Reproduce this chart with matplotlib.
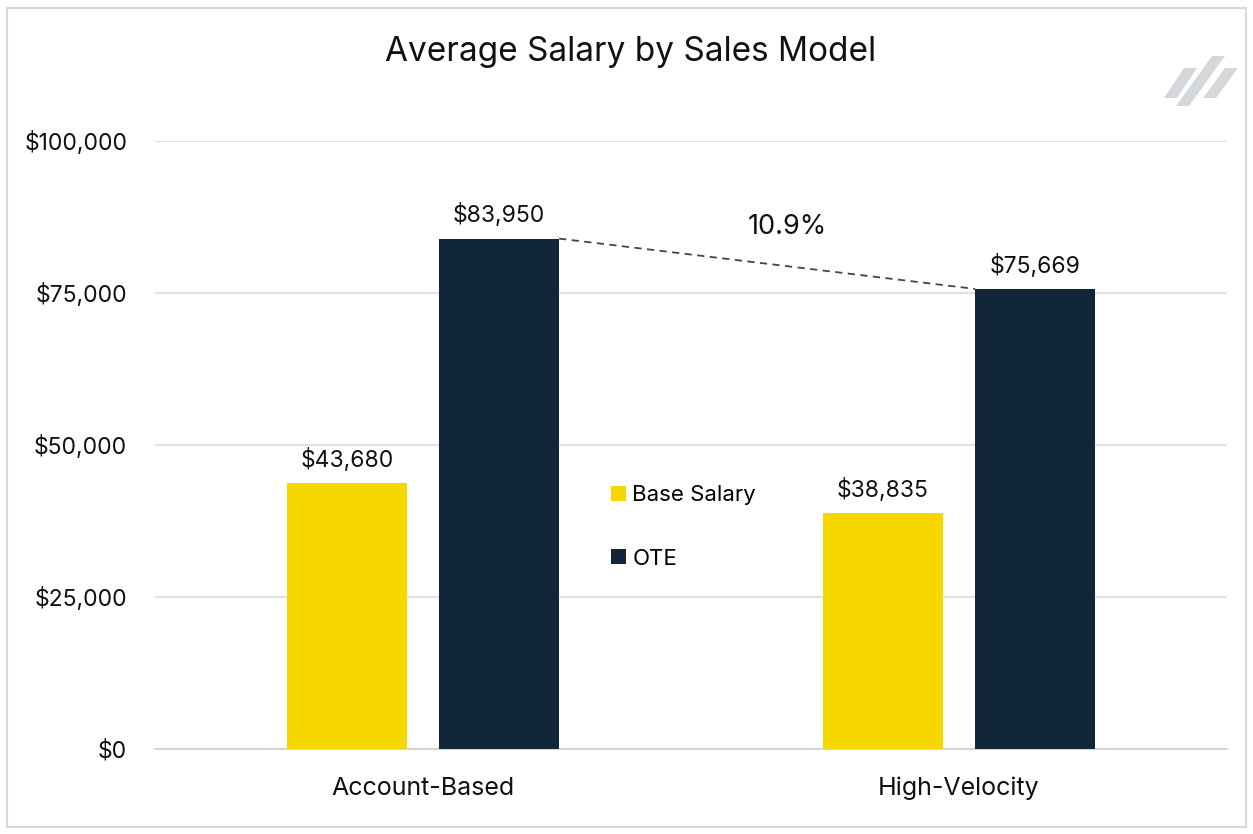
import matplotlib
matplotlib.use("Agg")
import matplotlib.pyplot as plt
import numpy as np
from matplotlib.patches import Rectangle, Polygon

categories = ["Account-Based", "High-Velocity"]
base_salary = [43680, 38835]
ote = [83950, 75669]
series_names = ["Base Salary", "OTE"]
yticks = [0, 25000, 50000, 75000, 100000]

plt.rcParams['font.family'] = ['Inter', 'DejaVu Sans']

YELLOW = "#F7D700"
NAVY = "#12263A"
TXT = "#111111"

fig = plt.figure(figsize=(12.53, 8.34), dpi=100)
ax = fig.add_axes([155/1253, (834-749)/834, (1227-155)/1253, (749-141)/834])

x = np.arange(len(categories))
w = 0.224
off = 0.142
b1 = ax.bar(x - off, base_salary, w, color=YELLOW, label=series_names[0], zorder=3)
b2 = ax.bar(x + off, ote, w, color=NAVY, label=series_names[1], zorder=3)

for bars, vals in ((b1, base_salary), (b2, ote)):
    for r, v in zip(bars, vals):
        ax.annotate(f"${v:,}", (r.get_x() + r.get_width()/2, v), xytext=(0, 8),
                    textcoords="offset points", ha="center", va="bottom", fontsize=16.5, color=TXT)

# dashed connector between OTE bars
r0, r1 = b2[0], b2[1]
ax.plot([r0.get_x() + r0.get_width(), r1.get_x()], [ote[0], ote[1]], ls=(0, (4, 3)),
        color="#444444", lw=1.3, zorder=4)
pct = (ote[0] - ote[1]) / ote[1] * 100
ax.text(0.5 + 0.18, 85800, f"{pct:.1f}%", ha="center", va="center", fontsize=19.5, color=TXT)

ax.set_xlim(-0.5, 1.5)
ax.set_ylim(0, 100000)
ax.set_yticks(yticks)
ax.set_yticklabels([f"${t:,}" for t in yticks], fontsize=16.5, color=TXT)
ax.set_xticks(x)
ax.set_xticklabels(categories, fontsize=18, color=TXT)
ax.tick_params(axis="both", length=0)
ax.tick_params(axis="y", pad=20)
ax.tick_params(axis="x", pad=20)
ax.grid(axis="y", color="#DADADA", lw=1.2, zorder=0)
for s in ("top", "right", "left"):
    ax.spines[s].set_visible(False)
ax.spines["bottom"].set_color("#D0D0D0")
ax.spines["bottom"].set_linewidth(1.2)

leg = ax.legend(loc="upper left", bbox_to_anchor=(0.407, 0.4667), frameon=False, fontsize=16,
                handlelength=0.65, handleheight=0.65, handletextpad=0.3, labelspacing=1.95)

fig.text(631/1253, 1 - 52/834, "Average Salary by Sales Model", ha="center", va="center",
         fontsize=24, color=TXT)

# outer frame
fig.patches.append(Rectangle((7/1253, 1 - 827/834), (1246-7)/1253, (827-8)/834, transform=fig.transFigure,
                             fill=False, edgecolor="#D9D9D9", lw=1.5))

# logo: three slanted bars
def px(xp, yp):
    return (xp/1253, 1 - yp/834)
logo_color = "#D5D8DB"
shapes = [
    [(1164, 98), (1177, 98), (1197, 68), (1184, 68)],
    [(1176, 106), (1189, 106), (1225, 56), (1212, 56)],
    [(1203, 98), (1216, 98), (1238, 68), (1225, 68)],
]
for sh in shapes:
    fig.patches.append(Polygon([px(a, b) for a, b in sh], closed=True, transform=fig.transFigure,
                               facecolor=logo_color, edgecolor="none"))

fig.savefig("out.png", dpi=100, facecolor="white")
